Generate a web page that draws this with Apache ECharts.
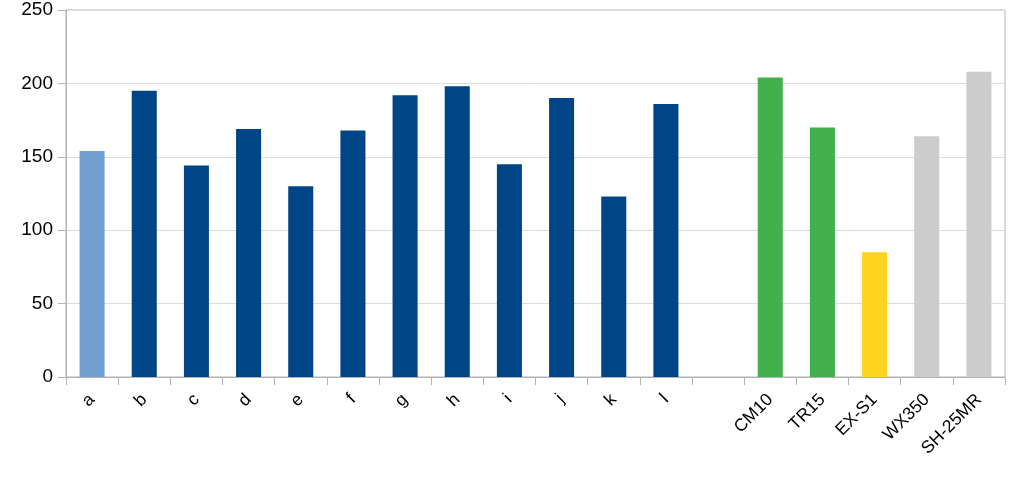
<!DOCTYPE html>
<html>
<head>
<meta charset="utf-8">
<script src="https://cdn.jsdelivr.net/npm/echarts@6/dist/echarts.min.js"></script>
<style>
  html, body { margin: 0; padding: 0; background: #fff; }
  #chart { width: 1024px; height: 484px; }
</style>
</head>
<body>
<div id="chart"></div>
<script>
// categories and values (blank slot between l and CM10)
const categories = ['a', 'b', 'c', 'd', 'e', 'f', 'g', 'h', 'i', 'j', 'k', 'l', '', 'CM10', 'TR15', 'EX-S1', 'WX350', 'SH-25MR']
const values = [154, 195, 144, 169, 130, 168, 192, 198, 145, 190, 123, 186, null, 204, 170, 85, 164, 208]
const barColors = ['#729fcf', '#004586', '#004586', '#004586', '#004586', '#004586', '#004586', '#004586', '#004586', '#004586', '#004586', '#004586', '#004586', '#43b14b', '#43b14b', '#ffd320', '#cccccc', '#cccccc']
const yTicks = [0, 50, 100, 150, 200, 250]

const chart = echarts.init(document.getElementById('chart'))

const option = {
  animation: false,
  grid: {
    left: 66,
    right: 19,
    top: 10,
    bottom: 107,
    show: true,
    borderColor: '#b3b3b3',
    borderWidth: 1
  },
  xAxis: {
    type: 'category',
    data: categories,
    boundaryGap: true,
    axisLine: { lineStyle: { color: '#b3b3b3' } },
    axisTick: { show: true, alignWithLabel: false, length: 8, lineStyle: { color: '#b3b3b3' } },
    axisLabel: {
      rotate: 45,
      interval: 0,
      color: '#000',
      fontFamily: 'Liberation Sans',
      fontSize: 17.5,
      margin: 20
    }
  },
  yAxis: {
    type: 'value',
    min: yTicks[0],
    max: yTicks[yTicks.length - 1],
    interval: 50,
    axisLine: { show: true, lineStyle: { color: '#b3b3b3' } },
    axisTick: { show: true, length: 8, lineStyle: { color: '#b3b3b3' } },
    splitLine: { lineStyle: { color: '#dcdcdc' } },
    axisLabel: {
      color: '#000',
      fontFamily: 'Liberation Sans',
      fontSize: 19,
      margin: 13
    }
  },
  series: [
    {
      type: 'bar',
      barWidth: '48%',
      data: values.map((v, i) => ({
        value: v,
        itemStyle: { color: barColors[i] }
      }))
    }
  ]
}

chart.setOption(option)
</script>
</body>
</html>
